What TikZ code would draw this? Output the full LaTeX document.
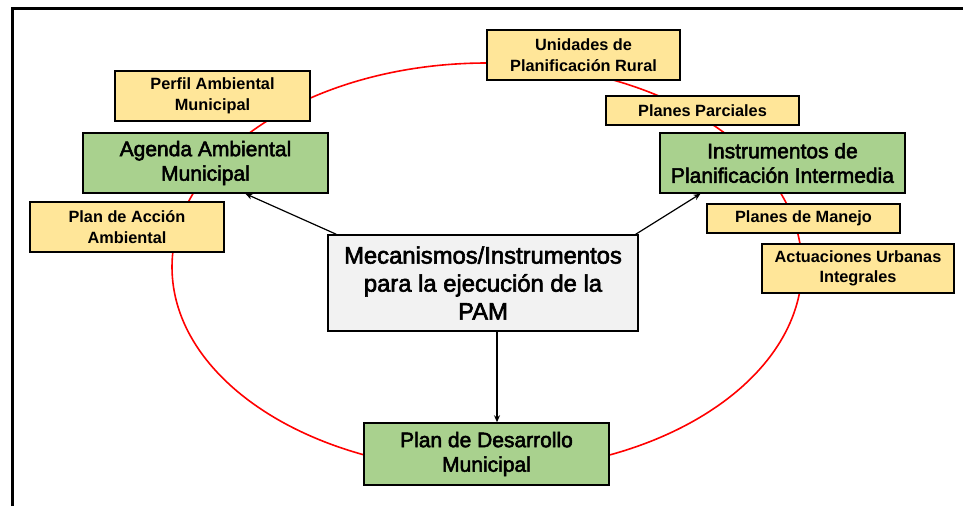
\documentclass[tikz,border=0pt]{standalone}
\usepackage{fontspec}
\setmainfont{Liberation Sans}
\newfontfamily\gruesa[FakeBold=2.5]{Liberation Sans}
\usepackage{tikz}
\usetikzlibrary{shapes, calc, arrows.meta, positioning}
\definecolor{amarillo}{HTML}{FFE699}
\definecolor{verde}{HTML}{A9D18E}
\definecolor{gris}{HTML}{F2F2F2}
\tikzstyle{subbox}=[draw,line width=1.5pt,fill=amarillo,align=center,inner sep=0pt,font=\fontsize{16.3}{20.5}\selectfont\bfseries]
\tikzstyle{mainbox}=[draw,line width=1.5pt,fill=verde,align=center,inner sep=0pt,minimum width=245pt,font=\fontsize{21}{24.5}\gruesa]
\tikzstyle{centerbox}=[draw,line width=1.5pt,fill=gris,align=center,inner sep=0pt,font=\fontsize{23.8}{28}\gruesa]
\tikzstyle{link}=[line width=1.2pt,-{Stealth[length=7pt,width=6pt]}]

\begin{document}
\begin{tikzpicture}[x=1pt,y=-1pt]
    \useasboundingbox (0,0) rectangle (963,506);
    % marco
    \draw[line width=3pt] (12,506) -- (12,8) -- (963,8);
    % ciclo
    \draw[red,line width=1.6pt] (487,267) ellipse [x radius=315pt, y radius=204pt];

    \node (pam)[centerbox,minimum width=310pt,minimum height=96pt] at (483,283) {Mecanismos/Instrumentos\\para la ejecución de la\\PAM};

    \node (agenda)[mainbox,minimum height=60pt] at (205.5,163) {Agenda Ambiental\\Municipal};
    \node (intermedia)[mainbox,minimum height=60pt] at (782.5,163) {Instrumentos de\\Planificación Intermedia};
    \node (pdm)[mainbox,minimum height=62pt] at (486.5,454) {Plan de Desarrollo\\Municipal};

    \node (perfil)[subbox,minimum width=195pt,minimum height=50pt] at (212.5,96) {Perfil Ambiental\\Municipal};
    \node (accion)[subbox,minimum width=194pt,minimum height=50pt] at (127,227) {Plan de Acción\\Ambiental};
    \node (unidades)[subbox,minimum width=193pt,minimum height=50pt] at (583.5,55) {Unidades de\\Planificación Rural};
    \node (parciales)[subbox,minimum width=193pt,minimum height=29pt] at (702.5,110.5) {Planes Parciales};
    \node (manejo)[subbox,minimum width=193pt,minimum height=29pt] at (803.5,218.5) {Planes de Manejo};
    \node (actuaciones)[subbox,minimum width=192pt,minimum height=49pt] at (858,268.5) {Actuaciones Urbanas\\Integrales};

    \draw[link] ([xshift=9pt]pam.north west) -- ([xshift=40pt]agenda.south);
    \draw[link] ([xshift=-3pt]pam.north east) -- ([xshift=-82pt]intermedia.south);
    \draw[link] ([xshift=14pt]pam.south) -- ([xshift=14pt]pam.south |- pdm.north);

\end{tikzpicture}
\end{document}
